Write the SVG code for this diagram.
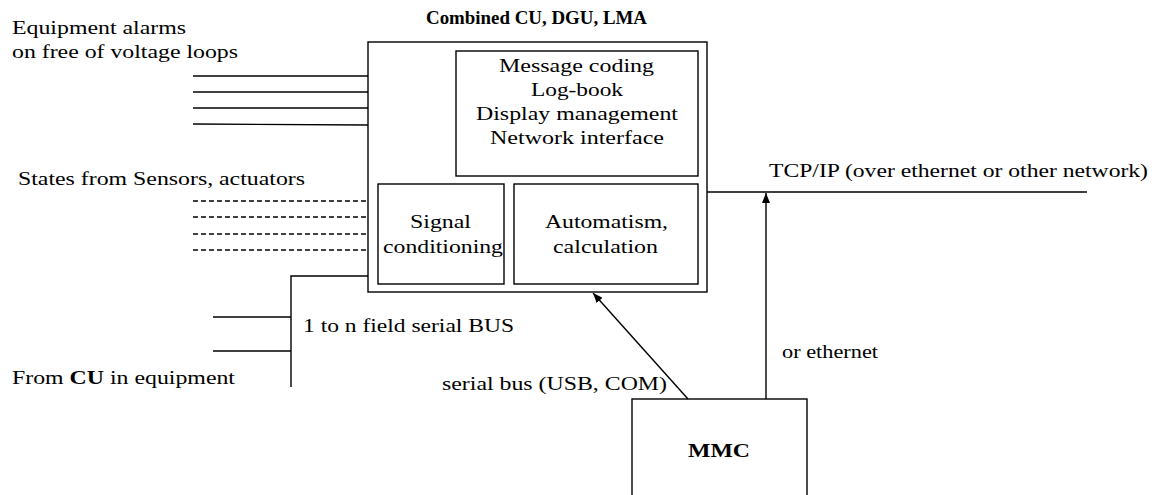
<svg xmlns="http://www.w3.org/2000/svg" width="1157" height="495" viewBox="0 0 1157 495">
<style>
text{font-family:"Liberation Serif","Times New Roman",serif;font-size:19px;fill:#000}
.b{font-weight:bold}
.box{fill:none;stroke:#000;stroke-width:1.4}
.ln{fill:none;stroke:#000;stroke-width:1.4}
.dash{fill:none;stroke:#000;stroke-width:1.3;stroke-dasharray:5 3}
</style>
<defs>
<marker id="ah" viewBox="0 0 10 8" refX="10" refY="4" markerWidth="10" markerHeight="8" markerUnits="userSpaceOnUse" orient="auto">
<path d="M0,0 L10,4 L0,8 z" fill="#000"/>
</marker>
</defs>
<rect width="1157" height="495" fill="#fff"/>

<g id="labels">
<text x="12" y="34" textLength="174" lengthAdjust="spacingAndGlyphs">Equipment alarms</text>
<text x="12" y="58" textLength="226" lengthAdjust="spacingAndGlyphs">on free of voltage loops</text>
<text x="18" y="185" textLength="287" lengthAdjust="spacingAndGlyphs">States from Sensors, actuators</text>
<text x="303" y="332" textLength="211" lengthAdjust="spacingAndGlyphs">1 to n field serial BUS</text>
<text x="12" y="384" textLength="223" lengthAdjust="spacingAndGlyphs">From <tspan class="b">CU</tspan> in equipment</text>
<text x="442" y="390" textLength="225" lengthAdjust="spacingAndGlyphs">serial bus (USB, COM)</text>
<text x="782" y="358" textLength="96" lengthAdjust="spacingAndGlyphs">or ethernet</text>
<text x="769" y="177" textLength="379" lengthAdjust="spacingAndGlyphs">TCP/IP (over ethernet or other network)</text>
</g>

<g id="main">
<text class="b" x="426" y="24" textLength="221" lengthAdjust="spacingAndGlyphs">Combined CU, DGU, LMA</text>
<rect class="box" x="368" y="42" width="339" height="250"/>
</g>

<g id="coding">
<rect class="box" x="456" y="51" width="242" height="125"/>
<text x="499" y="72" textLength="155" lengthAdjust="spacingAndGlyphs">Message coding</text>
<text x="531" y="96" textLength="92" lengthAdjust="spacingAndGlyphs">Log-book</text>
<text x="476" y="120" textLength="202" lengthAdjust="spacingAndGlyphs">Display management</text>
<text x="490" y="144" textLength="174" lengthAdjust="spacingAndGlyphs">Network interface</text>
</g>

<g id="signal">
<rect class="box" x="378" y="184" width="126" height="100"/>
<text x="410" y="228" textLength="61" lengthAdjust="spacingAndGlyphs">Signal</text>
<text x="383" y="253" textLength="120" lengthAdjust="spacingAndGlyphs">conditioning</text>
</g>

<g id="automatism">
<rect class="box" x="514" y="184" width="184" height="100"/>
<text x="545" y="228" textLength="123" lengthAdjust="spacingAndGlyphs">Automatism,</text>
<text x="553" y="253" textLength="105" lengthAdjust="spacingAndGlyphs">calculation</text>
</g>

<g id="mmc">
<rect class="box" x="632" y="399" width="175" height="110"/>
<text class="b" x="688" y="457" textLength="62" lengthAdjust="spacingAndGlyphs">MMC</text>
</g>

<g id="connectors">
<line class="ln" x1="193" y1="76" x2="368" y2="76"/>
<line class="ln" x1="193" y1="92" x2="368" y2="92"/>
<line class="ln" x1="193" y1="108" x2="368" y2="108"/>
<line class="ln" x1="193" y1="124" x2="368" y2="125"/>
<line class="dash" x1="193" y1="201" x2="368" y2="201"/>
<line class="dash" x1="193" y1="217" x2="368" y2="217"/>
<line class="dash" x1="193" y1="234" x2="368" y2="234"/>
<line class="dash" x1="193" y1="250" x2="368" y2="250"/>
<polyline class="ln" points="368,276 291,276 291,387"/>
<line class="ln" x1="213" y1="317" x2="291" y2="317"/>
<line class="ln" x1="213" y1="351" x2="291" y2="351"/>
<line class="ln" x1="688" y1="399" x2="593" y2="293" marker-end="url(#ah)"/>
<line class="ln" x1="707" y1="192" x2="1087" y2="192"/>
<line class="ln" x1="766" y1="399" x2="766" y2="193" marker-end="url(#ah)"/>
</g>
</svg>
